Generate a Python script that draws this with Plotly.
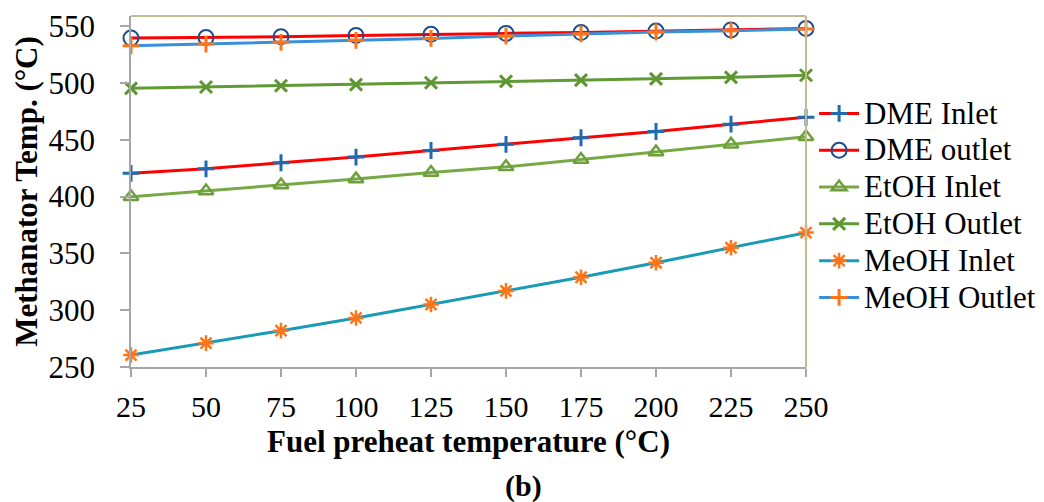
import plotly.graph_objects as go

x_vals = [25, 50, 75, 100, 125, 150, 175, 200, 225, 250]
dme_inlet = [420.5, 424.5, 429.8, 434.8, 440.6, 446.0, 451.8, 457.3, 463.8, 469.8]
dme_outlet = [539.6, 540.0, 540.7, 541.8, 542.9, 543.7, 544.4, 545.7, 546.7, 548.0]
etoh_inlet = [399.9, 405.0, 410.2, 415.4, 421.2, 426.2, 432.7, 439.2, 446.0, 452.6]
etoh_outlet = [495.3, 496.5, 497.6, 498.6, 500.2, 501.4, 502.6, 503.6, 505.0, 506.8]
meoh_inlet = [260.5, 271.0, 282.0, 293.2, 305.0, 317.0, 329.0, 341.8, 355.0, 368.3]
meoh_outlet = [532.8, 534.3, 535.8, 537.6, 539.3, 541.3, 543.3, 544.9, 546.1, 547.6]
x_ticks = [25, 50, 75, 100, 125, 150, 175, 200, 225, 250]
y_ticks = [250, 300, 350, 400, 450, 500, 550]

ORANGE = "#FF7417"
series = [
    ("DME Inlet", dme_inlet, "#FF0000", "cross-thin-open", "#1F6BB0", 12, 3),
    ("DME outlet", dme_outlet, "#FF0000", "circle-open", "#1F4E8C", 15, 2),
    ("EtOH Inlet", etoh_inlet, "#77A844", "triangle-up-open", "#6DA03A", 13, 2.5),
    ("EtOH Outlet", etoh_outlet, "#609A35", "x-thin-open", "#5E9632", 12, 3),
    ("MeOH Inlet", meoh_inlet, "#1A9BB5", "asterisk-open", ORANGE, 13, 2.5),
    ("MeOH Outlet", meoh_outlet, "#3A8FDA", "cross-thin-open", ORANGE, 12, 3),
]

fig = go.Figure()
for name, ys, lc, sym, mc, ms, mw in series:
    fig.add_trace(go.Scatter(
        x=x_vals, y=ys, name='<span style="font-size:31px">' + name + '</span>',
        mode="lines+markers",
        line=dict(color=lc, width=3),
        marker=dict(symbol=sym, size=ms, color=mc, line=dict(color=mc, width=mw)),
        cliponaxis=False,
    ))

FONT = "Liberation Serif"
fig.update_layout(
    width=1044, height=502,
    margin=dict(l=131, r=238, t=16, b=135, autoexpand=False),
    paper_bgcolor="white", plot_bgcolor="white",
    font=dict(family=FONT, size=30, color="black"),
    showlegend=True,
    legend=dict(x=1.012, xanchor="left", y=0.789, yanchor="top",
                font=dict(family=FONT, size=26, color="black"),
                bgcolor="rgba(0,0,0,0)", borderwidth=0, tracegroupgap=0,
                itemwidth=40),
    xaxis=dict(range=[25, 250], tickvals=x_ticks, ticktext=[str(v) for v in x_ticks],
               showgrid=False, zeroline=False, showline=True, linecolor="#A6A6A6", linewidth=1.5,
               ticks="outside", ticklen=8, tickcolor="#A6A6A6", tickwidth=1.5,
               tickfont=dict(family=FONT, size=30), ticklabelstandoff=4,
               title=dict(text="<b>Fuel preheat temperature (°C)</b>",
                          font=dict(family=FONT, size=31), standoff=9)),
    yaxis=dict(range=[250, 559], tickvals=y_ticks, ticktext=[str(v) for v in y_ticks],
               showgrid=False, zeroline=False, showline=True, linecolor="#A6A6A6", linewidth=1.5,
               ticks="outside", ticklen=9, tickcolor="#A6A6A6", tickwidth=1.5,
               tickfont=dict(family=FONT, size=31), ticklabelstandoff=19,
               title=dict(text="<b>Methanator Temp. (°C)</b>",
                          font=dict(family=FONT, size=31), standoff=2)),
    shapes=[
        dict(type="line", xref="paper", yref="paper", x0=0, x1=1, y0=1, y1=1,
             line=dict(color="#C4BA94", width=2)),
        dict(type="line", xref="paper", yref="paper", x0=1, x1=1, y0=0, y1=1,
             line=dict(color="#C4BA94", width=2)),
    ],
    annotations=[
        dict(text="<b>(b)</b>", xref="paper", yref="paper", x=0.582, y=-0.34,
             xanchor="center", yanchor="middle", showarrow=False,
             font=dict(family=FONT, size=30)),
    ],
)

fig.write_html("out.html")
